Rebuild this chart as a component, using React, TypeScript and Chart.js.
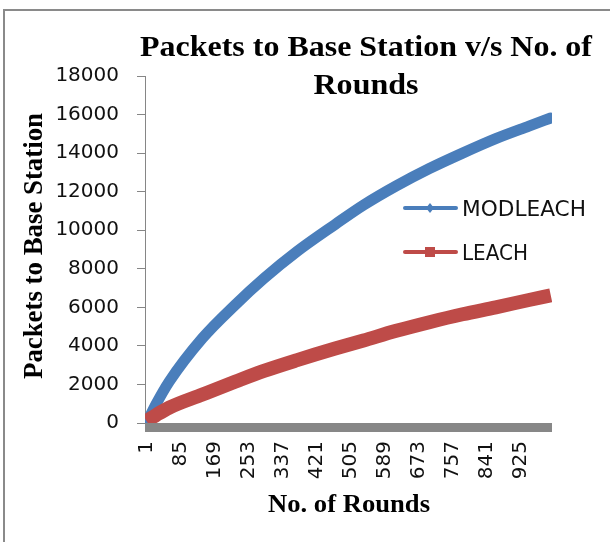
import { useEffect, useRef } from "react";
import { Chart, registerables } from "chart.js";

Chart.register(...registerables);

// ---- data ----
const ROUNDS = [1, 25, 57, 139, 221, 291, 373, 467, 537, 618, 700, 782, 864, 946, 1000];
const MODLEACH = [0, 1000, 2150, 4400, 6150, 7500, 8900, 10300, 11300, 12300, 13200, 14000, 14750, 15400, 15820];
const LEACH = [100, 420, 800, 1480, 2150, 2700, 3260, 3860, 4280, 4780, 5230, 5640, 6000, 6380, 6620];
const X_TICKS = [1, 85, 169, 253, 337, 421, 505, 589, 673, 757, 841, 925];
const Y_TICKS = [0, 2000, 4000, 6000, 8000, 10000, 12000, 14000, 16000, 18000];
const SERIES_NAMES = ["MODLEACH", "LEACH"];
const TITLE_LINES = ["Packets to Base Station v/s No. of", "Rounds"];
const Y_TITLE = "Packets to Base Station";
const X_TITLE = "No. of Rounds";

const BLUE = "#4A7EBB";
const RED = "#BE4B48";
const AXIS_GRAY = "#868686";
const BAR_GRAY = "#878787";

function fitText(
  ctx: CanvasRenderingContext2D,
  text: string,
  x: number,
  y: number,
  font: string,
  targetW: number,
  align: CanvasTextAlign,
  rotate = 0
) {
  ctx.save();
  ctx.font = font;
  const w = ctx.measureText(text).width;
  const sx = targetW / w;
  ctx.translate(x, y);
  if (rotate) ctx.rotate(rotate);
  ctx.scale(sx, 1);
  ctx.textAlign = align;
  ctx.textBaseline = "alphabetic";
  ctx.fillStyle = "#000";
  ctx.fillText(text, 0, 0);
  ctx.restore();
}

const decorPlugin = {
  id: "decor",
  beforeDatasetsDraw(chart: any) {
    const { ctx, chartArea } = chart;
    ctx.save();
    ctx.fillStyle = BAR_GRAY;
    ctx.fillRect(chartArea.left, chartArea.bottom, chartArea.right - chartArea.left, 9);
    ctx.restore();
  },
  afterDraw(chart: any) {
    const { ctx } = chart;
    // outer frame
    ctx.save();
    ctx.strokeStyle = "#8a8a8a";
    ctx.lineWidth = 2;
    ctx.strokeRect(4, 10, 800, 800);
    ctx.restore();

    const serifB = (s: number) => `bold ${s}px "Liberation Serif", "Times New Roman", serif`;
    // chart title
    fitText(ctx, TITLE_LINES[0], 366, 56, serifB(30), 452, "center");
    fitText(ctx, TITLE_LINES[1], 366, 94, serifB(30), 105, "center");
    // axis titles
    fitText(ctx, X_TITLE, 349, 512, serifB(25), 162, "center");
    fitText(ctx, Y_TITLE, 42, 246, serifB(27), 266, "center", -Math.PI / 2);

    // legend
    const items = [
      { name: SERIES_NAMES[0], color: BLUE, y: 208, marker: "diamond", w: 124 },
      { name: SERIES_NAMES[1], color: RED, y: 252, marker: "square", w: 66 },
    ];
    for (const it of items) {
      ctx.save();
      ctx.strokeStyle = it.color;
      ctx.lineWidth = 4;
      ctx.lineCap = "round";
      ctx.beginPath();
      ctx.moveTo(405, it.y);
      ctx.lineTo(456, it.y);
      ctx.stroke();
      ctx.fillStyle = it.color;
      if (it.marker === "diamond") {
        ctx.beginPath();
        ctx.moveTo(430, it.y - 5);
        ctx.lineTo(434, it.y);
        ctx.lineTo(430, it.y + 5);
        ctx.lineTo(426, it.y);
        ctx.closePath();
        ctx.fill();
      } else {
        ctx.fillRect(425, it.y - 5, 10, 10);
      }
      ctx.restore();
      ctx.save();
      ctx.font = `21px "DejaVu Sans", sans-serif`;
      const tw = ctx.measureText(it.name).width;
      ctx.translate(462, it.y + 8);
      ctx.scale(it.w / tw, 1);
      ctx.fillStyle = "#111";
      ctx.textAlign = "left";
      ctx.fillText(it.name, 0, 0);
      ctx.restore();
    }
  },
};

export default function App() {
  const ref = useRef<HTMLCanvasElement | null>(null);

  useEffect(() => {
    if (!ref.current) return;
    const tickFont = { family: '"DejaVu Sans", sans-serif', size: 20 };
    const chart = new Chart(ref.current, {
      type: "line",
      data: {
        datasets: [
          {
            label: SERIES_NAMES[0],
            data: ROUNDS.map((r, i) => ({ x: r, y: MODLEACH[i] })),
            borderColor: BLUE,
            backgroundColor: BLUE,
            borderWidth: 11,
            borderCapStyle: "round",
            borderJoinStyle: "round",
            pointRadius: 0,
            cubicInterpolationMode: "monotone",
            order: 1,
          },
          {
            label: SERIES_NAMES[1],
            data: ROUNDS.map((r, i) => ({ x: r, y: LEACH[i] })),
            borderColor: RED,
            backgroundColor: RED,
            borderWidth: 14,
            borderCapStyle: "butt",
            borderJoinStyle: "round",
            pointRadius: 0,
            cubicInterpolationMode: "monotone",
            order: 0,
          },
        ],
      },
      options: {
        responsive: false,
        animation: false,
        devicePixelRatio: 1,
        layout: { padding: { left: 0, right: 58, top: 76, bottom: 0 } },
        plugins: {
          legend: { display: false },
          title: { display: false },
          tooltip: { enabled: false },
        },
        scales: {
          x: {
            type: "linear",
            min: -3,
            max: 1003,
            afterBuildTicks: (s: any) => {
              s.ticks = X_TICKS.map((v) => ({ value: v }));
            },
            afterFit: (s: any) => {
              s.height = 542 - 423;
            },
            ticks: {
              autoSkip: false,
              minRotation: 90,
              maxRotation: 90,
              padding: 18,
              font: tickFont,
              color: "#111",
              callback: (v: any) => String(v),
            },
            grid: { display: false, drawTicks: false },
            border: { display: false },
          },
          y: {
            min: 0,
            max: 18000,
            afterBuildTicks: (s: any) => {
              s.ticks = Y_TICKS.map((v) => ({ value: v }));
            },
            afterFit: (s: any) => {
              s.width = 145;
            },
            ticks: {
              padding: 18,
              font: tickFont,
              color: "#111",
              callback: (v: any) => String(v),
            },
            grid: { drawOnChartArea: false, drawTicks: true, tickLength: 8, color: AXIS_GRAY },
            border: { display: true, color: AXIS_GRAY, width: 1 },
          },
        },
      } as any,
      plugins: [decorPlugin],
    });
    return () => chart.destroy();
  }, []);

  return (
    <div style={{ position: "absolute", left: 0, top: 0, width: 610, height: 542, background: "#fff" }}>
      <canvas ref={ref} width={610} height={542} style={{ display: "block" }} />
    </div>
  );
}
